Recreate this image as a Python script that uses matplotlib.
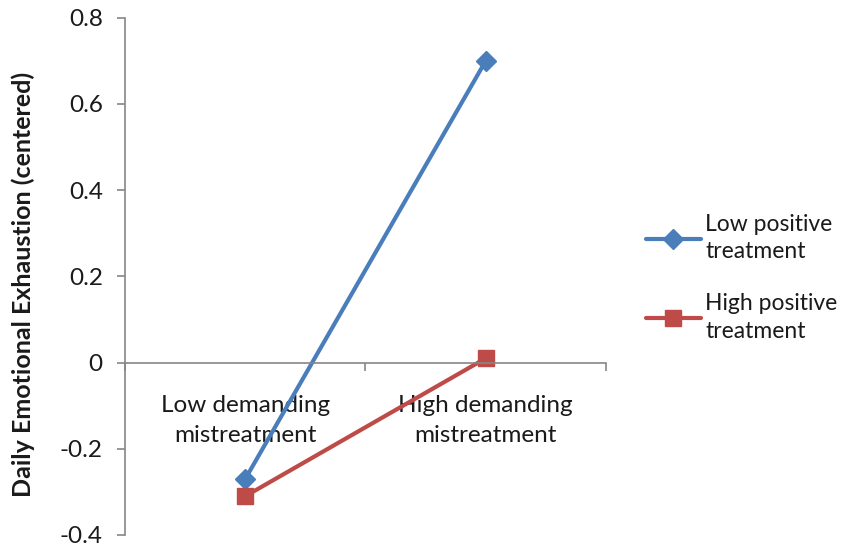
import matplotlib.pyplot as plt
from matplotlib.ticker import FixedLocator, NullFormatter

plt.rcParams['font.family'] = ['Lato', 'DejaVu Sans']

categories = ["Low demanding\nmistreatment", "High demanding\nmistreatment"]
low_positive = [-0.27, 0.70]
high_positive = [-0.31, 0.01]
series_names = ["Low positive\ntreatment", "High positive\ntreatment"]
y_ticks = [-0.4, -0.2, 0, 0.2, 0.4, 0.6, 0.8]
y_tick_labels = ["-0.4", "-0.2", "0", "0.2", "0.4", "0.6", "0.8"]

blue = "#4A7EBB"
red = "#BE4B48"
axis_gray = "#868686"
text_color = "#1a1a1a"

fig = plt.figure(figsize=(8.48, 5.52), dpi=100)
ax = fig.add_axes([0.1474, 0.0308, 0.5672, 0.937])

x = [i + 0.5 for i in range(len(categories))]
ax.plot(x, low_positive, color=blue, lw=3, marker="D", ms=10,
        mec=blue, mfc=blue, label=series_names[0], solid_capstyle="round")
ax.plot(x, high_positive, color=red, lw=3, marker="s", ms=12,
        mec=red, mfc=red, label=series_names[1], solid_capstyle="round")

ax.set_xlim(0, len(categories))
ax.set_ylim(-0.4, 0.8)
ax.set_yticks(y_ticks)
ax.set_yticklabels(y_tick_labels, fontsize=17.5, color=text_color)

# Category axis runs along y = 0, with boundary ticks pointing down
for s in ("top", "right"):
    ax.spines[s].set_visible(False)
ax.spines["bottom"].set_position(("data", 0))
ax.spines["bottom"].set_color(axis_gray)
ax.spines["left"].set_color(axis_gray)
ax.spines["bottom"].set_linewidth(1.2)
ax.spines["left"].set_linewidth(1.2)

ax.xaxis.set_major_locator(FixedLocator(x))
ax.set_xticklabels(categories, fontsize=17.5, color=text_color, linespacing=1.55)
ax.tick_params(axis="x", which="major", length=0, pad=23)
ax.xaxis.set_minor_locator(FixedLocator(list(range(len(categories) + 1))))
ax.xaxis.set_minor_formatter(NullFormatter())
ax.tick_params(axis="x", which="minor", length=6, width=1.2, color=axis_gray, direction="out")
ax.tick_params(axis="y", length=6, width=1.2, color=axis_gray, direction="out", pad=10)

ax.set_ylabel("Daily Emotional Exhaustion (centered)", fontsize=18,
              fontweight="bold", color=text_color)
ax.yaxis.set_label_coords(-0.187, 0.485)

leg = ax.legend(loc="center left", bbox_to_anchor=(1.04, 0.497), frameon=False,
                fontsize=16.5, handlelength=2.4, handletextpad=0.2,
                labelspacing=1.35, labelcolor=text_color)
for t in leg.get_texts():
    t.set_linespacing(1.4)

fig.savefig("out.png", dpi=100)
